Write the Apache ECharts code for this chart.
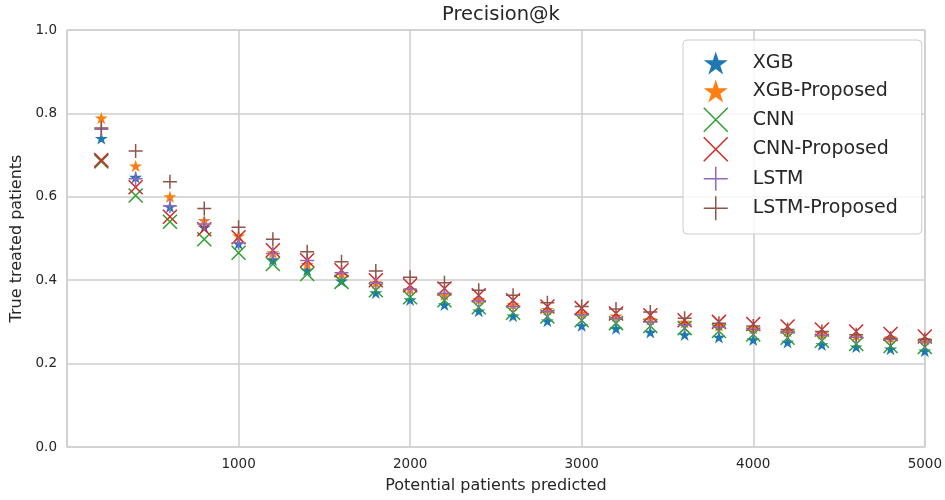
<!DOCTYPE html>
<html>
<head>
<meta charset="utf-8">
<script src="https://cdn.jsdelivr.net/npm/echarts@6/dist/echarts.min.js"></script>
<style>html,body{margin:0;padding:0;background:#fff;}#c{width:945px;height:500px;}</style>
</head>
<body>
<div id="c"></div>
<script>
const xValues = [200,400,600,800,1000,1200,1400,1600,1800,2000,2200,2400,2600,2800,3000,3200,3400,3600,3800,4000,4200,4400,4600,4800,5000];
const xgb = [0.740,0.647,0.576,0.527,0.488,0.449,0.424,0.398,0.370,0.353,0.341,0.326,0.314,0.302,0.291,0.284,0.275,0.269,0.263,0.257,0.251,0.245,0.240,0.235,0.230];
const xgbProposed = [0.789,0.674,0.600,0.543,0.506,0.466,0.438,0.415,0.394,0.378,0.365,0.354,0.341,0.330,0.321,0.314,0.306,0.299,0.291,0.285,0.278,0.272,0.267,0.262,0.258];
const cnn = [0.685,0.603,0.540,0.498,0.466,0.439,0.415,0.396,0.376,0.359,0.352,0.335,0.322,0.313,0.304,0.297,0.290,0.285,0.278,0.270,0.262,0.255,0.247,0.242,0.240];
const cnnProposed = [0.688,0.623,0.552,0.522,0.503,0.472,0.448,0.424,0.400,0.388,0.380,0.364,0.352,0.337,0.333,0.320,0.316,0.304,0.300,0.295,0.289,0.282,0.277,0.271,0.265];
const lstm = [0.762,0.643,0.578,0.535,0.490,0.464,0.447,0.418,0.394,0.378,0.369,0.350,0.337,0.325,0.317,0.309,0.300,0.293,0.287,0.282,0.275,0.268,0.263,0.258,0.252];
const lstmProposed = [0.765,0.710,0.636,0.572,0.527,0.498,0.468,0.444,0.422,0.407,0.394,0.376,0.364,0.346,0.337,0.331,0.324,0.309,0.297,0.290,0.282,0.277,0.269,0.261,0.258];
const seriesNames = ['XGB','XGB-Proposed','CNN','CNN-Proposed','LSTM','LSTM-Proposed'];
const yTicks = [0.0,0.2,0.4,0.6,0.8,1.0];
const xTicks = [1000,2000,3000,4000,5000];

const STAR = 'path://M50,0L61.2,34.5L97.6,34.5L68.2,55.9L79.4,90.5L50,69.1L20.6,90.5L31.8,55.9L2.4,34.5L38.8,34.5Z';
const XMARK = 'path://M0,0L10,10M10,0L0,10';
const PLUS = 'path://M5,0L5,10M0,5L10,5';
const colors = ['#1f77b4','#ff7f0e','#2ca02c','#d62728','#9467bd','#8c564b'];
const symbols = [STAR, STAR, XMARK, XMARK, PLUS, PLUS];
const sizes = [13, 13, 14, 14, 14, 14];
const allData = [xgb, xgbProposed, cnn, cnnProposed, lstm, lstmProposed];
const font = 'DejaVu Sans';

const series = seriesNames.map((name, i) => ({
  name: name,
  type: 'scatter',
  symbol: symbols[i],
  symbolSize: sizes[i],
  symbolKeepAspect: true,
  data: xValues.map((x, j) => [x, allData[i][j]]),
  itemStyle: {
    color: i < 2 ? colors[i] : 'rgba(0,0,0,0)',
    borderColor: colors[i],
    borderWidth: i < 2 ? 0 : 1.5,
    opacity: 1
  },
  emphasis: {disabled: true},
  z: 2 + i
}));

const chart = echarts.init(document.getElementById('c'), null, {renderer: 'canvas'});
chart.setOption({
  animation: false,
  backgroundColor: '#ffffff',
  textStyle: {fontFamily: font},
  title: {
    text: 'Precision@k',
    left: 496, top: 0, textAlign: 'center',
    textStyle: {fontFamily: font, fontSize: 19.5, fontWeight: 'normal', color: '#262626'}
  },
  grid: {left: 67, right: 20, top: 30, bottom: 53, show: true, borderColor: '#cccccc', borderWidth: 1.2},
  legend: {
    orient: 'vertical',
    left: 683, top: 40,
    padding: [11, 24, 13, 20],
    backgroundColor: 'rgba(255,255,255,0.8)',
    borderColor: '#cccccc', borderWidth: 1, borderRadius: 4,
    itemWidth: 24, itemHeight: 24, itemGap: 4,
    symbolKeepAspect: true,
    textStyle: {fontFamily: font, fontSize: 19, color: '#262626', lineHeight: 24, padding: [0, 0, 0, 20]},
    data: seriesNames.map((n, i) => ({
      name: n,
      itemStyle: {
        color: i < 2 ? colors[i] : 'rgba(0,0,0,0)',
        borderColor: colors[i],
        borderWidth: i < 2 ? 0 : 1.5
      }
    }))
  },
  xAxis: {
    type: 'value', min: 0, max: 5000, interval: 1000,
    name: 'Potential patients predicted', nameLocation: 'middle', nameGap: 31,
    nameTextStyle: {fontFamily: font, fontSize: 16, color: '#262626'},
    axisLine: {show: false}, axisTick: {show: false},
    axisLabel: {margin: 10, fontFamily: font, fontSize: 13.5, color: '#262626',
      formatter: v => xTicks.indexOf(v) >= 0 ? String(v) : ''},
    splitLine: {show: true, lineStyle: {color: '#cccccc', width: 1.5}}
  },
  yAxis: {
    type: 'value', min: 0, max: 1, interval: 0.2,
    name: 'True treated patients', nameLocation: 'middle', nameGap: 41,
    nameTextStyle: {fontFamily: font, fontSize: 16, color: '#262626'},
    axisLine: {show: false}, axisTick: {show: false},
    axisLabel: {margin: 10, fontFamily: font, fontSize: 13.5, color: '#262626',
      formatter: v => { const t = yTicks.find(k => Math.abs(k - v) < 1e-9); return t === undefined ? '' : t.toFixed(1); }},
    splitLine: {show: true, lineStyle: {color: '#cccccc', width: 1.5}}
  },
  series: series
});
</script>
</body>
</html>
